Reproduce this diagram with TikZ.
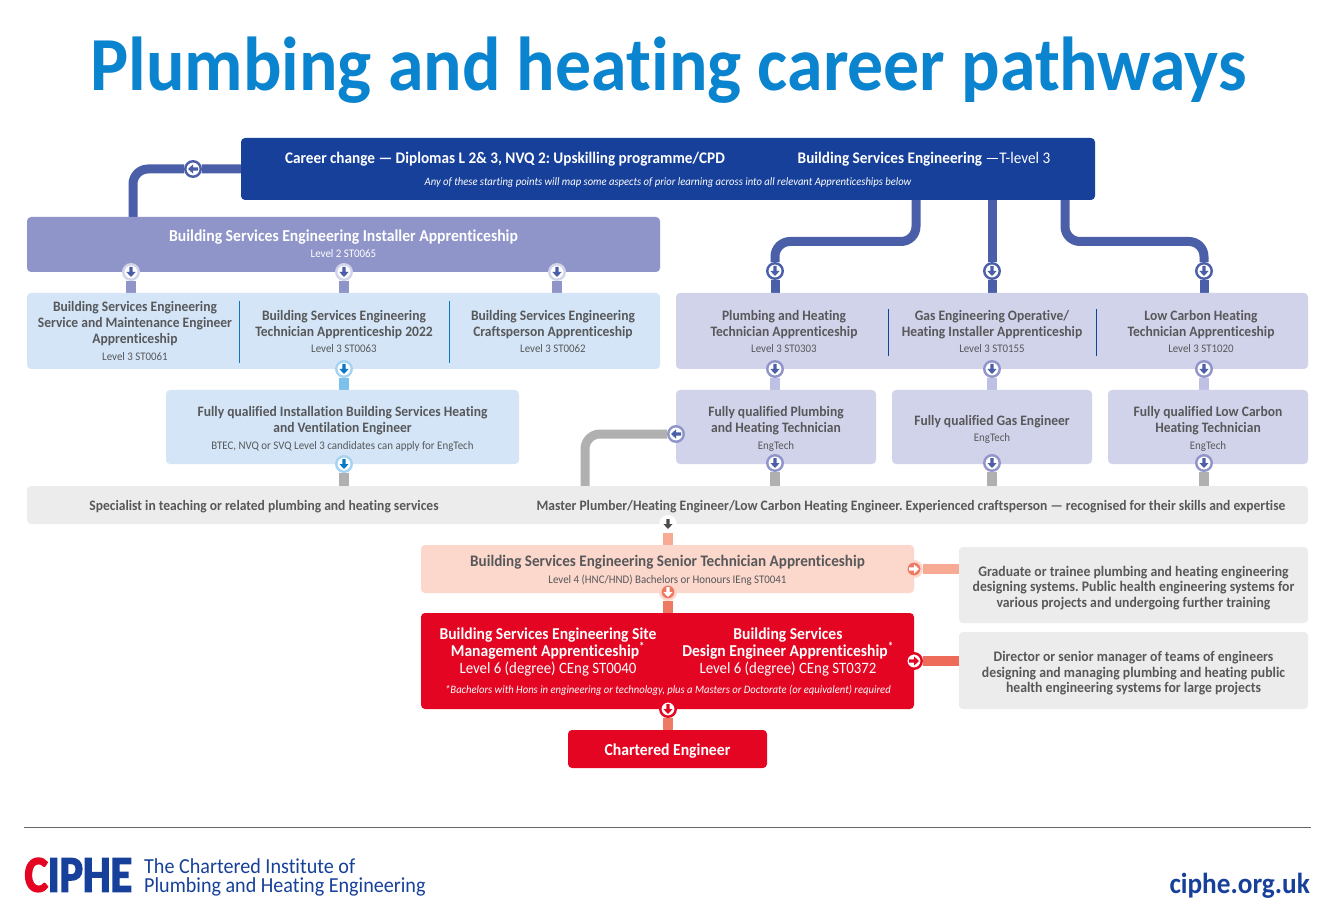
\documentclass[tikz,border=0pt]{standalone}
\usepackage{fontspec}
\setmainfont[FakeStretch=0.94,Ligatures=NoCommon]{Carlito}
\newfontfamily\logofont[FakeStretch=0.86,BoldFeatures={FakeBold=3}]{Carlito}
\usetikzlibrary{backgrounds}
\definecolor{navy}{HTML}{17409A}
\definecolor{midblue}{HTML}{4B5EA8}
\definecolor{install}{HTML}{8F94C9}
\definecolor{paleblue}{HTML}{D3E5F7}
\definecolor{lav}{HTML}{D1D3EA}
\definecolor{lavstem}{HTML}{BEC1E3}
\definecolor{skystem}{HTML}{7CC0EC}
\definecolor{skyring}{HTML}{A6D3F0}
\definecolor{skyarrow}{HTML}{0A78C5}
\definecolor{bandgrey}{HTML}{ECECEC}
\definecolor{stemgrey}{HTML}{B0B0B0}
\definecolor{txt}{HTML}{58585A}
\definecolor{peach}{HTML}{FBD7CC}
\definecolor{peachstem}{HTML}{F7AA94}
\definecolor{salmon}{HTML}{EE7A63}
\definecolor{salmondeep}{HTML}{EF6B59}
\definecolor{cred}{HTML}{E30522}
\definecolor{title}{HTML}{0A84CF}
\tikzset{
  box/.style={rounded corners=4pt,inner sep=0pt,align=center,text=txt,font=\headfont},
  lbl/.style={inner sep=0pt,align=center,text=txt,font=\headfont},
  conn/.style={line width=9pt,line join=round,rounded corners=15pt},
  stem/.style={line width=10.5pt},
  div/.style={line width=.9pt}
}
\newcommand{\headfont}{\fontsize{14.4}{15.6}\selectfont\bfseries}
\newcommand{\lv}[1]{{\fontsize{11.6}{15.6}\selectfont\mdseries #1}}
\newcommand{\up}[1]{\rule{0pt}{#1pt}}
\newcommand{\lvb}[1]{{\fontsize{15.8}{17}\selectfont\mdseries #1}}
% name, x, y, rotation, ring colour, disk colour, arrow colour
\newcommand{\hub}[7]{%
  \node[circle,draw=#5,fill=#6,line width=2.4pt,minimum size=15.5pt,inner sep=0pt] (#1) at (#2,#3) {};
  \fill[#7,shift={(#2,#3)},rotate=#4] (-1.6,-5) -- (1.6,-5) -- (1.6,0) -- (4.6,0) -- (0,5) -- (-4.6,0) -- (-1.6,0) -- cycle;
}
\frenchspacing
\begin{document}
\begin{tikzpicture}[x=1pt,y=-1pt]
\useasboundingbox (0,0) rectangle (1334,917);
\node[anchor=base,inner sep=0pt,text=title,font=\fontsize{76.4}{80}\selectfont\bfseries] (ttl) at (668.5,90.5) {Plumbing and heating career pathways};

% top
\node[box,fill=navy,minimum width=854pt,minimum height=62pt] (top) at (668,169) {};
\node[lbl,anchor=base,text=white,font=\fontsize{16.2}{17}\selectfont\bfseries] (t1) at (505,164) {Career change — Diplomas L 2\& 3, NVQ 2: Upskilling programme/CPD};
\node[lbl,anchor=base,text=white,font=\fontsize{16.2}{17}\selectfont\bfseries] (t2) at (924,164) {Building Services Engineering {\mdseries —T-level 3}};
\node[lbl,anchor=base,text=white,font=\fontsize{11.3}{13}\selectfont\itshape] (t3) at (668,186) {Any of these starting points will map some aspects of prior learning across into all relevant Apprenticeships below};

% installer
\node[box,fill=install,minimum width=633pt,minimum height=55pt,text=white] (inst) at (343.5,244.5) {\fontsize{16.7}{17}\selectfont Building Services Engineering Installer Apprenticeship\\[1pt]\lv{Level 2 ST0065\rule[-2pt]{0pt}{1pt}}};

% level 3 left
\node[box,fill=paleblue,minimum width=633pt,minimum height=76pt] (l3a) at (343.5,331) {};
\node[lbl] (a1) at (135,331) {Building Services Engineering\\Service and Maintenance Engineer\\Apprenticeship\\[1.5pt]\lv{Level 3 ST0061}};
\node[lbl] (a2) at (344,331.5) {Building Services Engineering\\Technician Apprenticeship 2022\\[1pt]\lv{Level 3 ST0063}};
\node[lbl] (a3) at (553,331.5) {Building Services Engineering\\Craftsperson Apprenticeship\\[1pt]\lv{Level 3 ST0062}};
\coordinate (da1) at (239.5,301); \coordinate (da2) at (239.5,363);
\coordinate (db1) at (449,301); \coordinate (db2) at (449,363);
\draw[div,color=skyarrow] (da1) -- (da2);
\draw[div,color=skyarrow] (db1) -- (db2);

% level 3 right
\node[box,fill=lav,minimum width=632pt,minimum height=76pt] (l3b) at (992,331) {};
\node[lbl] (b1) at (784,331.5) {Plumbing and Heating\\Technician Apprenticeship\\[1pt]\lv{Level 3 ST0303}};
\node[lbl] (b2) at (992,331.5) {Gas Engineering Operative/\\Heating Installer Apprenticeship\\[1pt]\lv{Level 3 ST0155}};
\node[lbl] (b3) at (1201,331.5) {Low Carbon Heating\\Technician Apprenticeship\\[1pt]\lv{Level 3 ST1020}};
\coordinate (dc1) at (888.5,309); \coordinate (dc2) at (888.5,356);
\coordinate (dd1) at (1096.5,309); \coordinate (dd2) at (1096.5,356);
\draw[div,color=navy] (dc1) -- (dc2);
\draw[div,color=navy] (dd1) -- (dd2);

% qualified
\node[box,fill=paleblue,minimum width=353pt,minimum height=74pt] (qi) at (342.5,427) {\up{14.5}Fully qualified Installation Building Services Heating\\and Ventilation Engineer\\[2pt]\lv{BTEC, NVQ or SVQ Level 3 candidates can apply for EngTech}};
\node[box,fill=lav,minimum width=200pt,minimum height=74pt] (qp) at (776,427) {\up{14.5}Fully qualified Plumbing\\and Heating Technician\\[2pt]\lv{EngTech}};
\node[box,fill=lav,minimum width=200pt,minimum height=74pt] (qg) at (992,427) {\up{15}Fully qualified Gas Engineer\\[1pt]\lv{EngTech}};
\node[box,fill=lav,minimum width=200pt,minimum height=74pt] (ql) at (1208,427) {\up{14.5}Fully qualified Low Carbon\\Heating Technician\\[2pt]\lv{EngTech}};

% band
\node[box,fill=bandgrey,minimum width=1281pt,minimum height=38pt] (band) at (667.5,505) {};
\node[lbl] (s1) at (264,506.5) {Specialist in teaching or related plumbing and heating services};
\node[lbl] (s2) at (911,506.5) {Master Plumber/Heating Engineer/Low Carbon Heating Engineer. Experienced craftsperson — recognised for their skills and expertise};

% senior
\node[box,fill=peach,minimum width=493pt,minimum height=48pt] (sen) at (667.5,569) {\fontsize{16.1}{17}\selectfont\up{14}Building Services Engineering Senior Technician Apprenticeship\\[1pt]\lv{Level 4 (HNC/HND) Bachelors or Honours IEng ST0041}};
\node[box,fill=cred,minimum width=493pt,minimum height=96pt] (site) at (667.5,661) {};
\node[lbl,text=white,font=\fontsize{16.6}{17}\selectfont\bfseries] (e1) at (548,652.5) {Building Services Engineering Site\\Management Apprenticeship\smash{\textsuperscript{*}}\\\lvb{Level 6 (degree) CEng ST0040}};
\node[lbl,text=white,font=\fontsize{16.6}{17}\selectfont\bfseries] (e2) at (788,652.5) {Building Services\\Design Engineer Apprenticeship\smash{\textsuperscript{*}}\\\lvb{Level 6 (degree) CEng ST0372}};
\node[lbl,text=white,font=\fontsize{11.3}{13}\selectfont\itshape] (e3) at (668,690) {*Bachelors with Hons in engineering or technology, plus a Masters or Doctorate (or equivalent) required};
\node[box,fill=cred,minimum width=199pt,minimum height=38pt,text=white] (ce) at (667.5,749) {\fontsize{16.7}{17}\selectfont\up{15.5}Chartered Engineer};
\node[box,fill=bandgrey,minimum width=349pt,minimum height=76pt,font=\fontsize{14.6}{15.6}\selectfont\bfseries] (g1) at (1133.5,585) {\up{16}Graduate or trainee plumbing and heating engineering\\designing systems. Public health engineering systems for\\various projects and undergoing further training};
\node[box,fill=bandgrey,minimum width=349pt,minimum height=77pt,font=\fontsize{14.6}{15.6}\selectfont\bfseries] (g2) at (1133.5,670.5) {\up{16}Director or senior manager of teams of engineers\\designing and managing plumbing and heating public\\health engineering systems for large projects};

% hubs
\hub{h0}{193}{169}{-90}{midblue}{white}{midblue}
\hub{h1}{131}{272}{0}{white!60!install}{white}{midblue}
\hub{h2}{344}{272}{0}{white!60!install}{white}{midblue}
\hub{h3}{557}{272}{0}{white!60!install}{white}{midblue}
\hub{h4}{344}{369}{0}{skyring}{white}{skyarrow}
\hub{h5}{344}{464}{0}{skyring}{white}{skyarrow}
\hub{h6}{775}{271}{0}{midblue}{white}{midblue}
\hub{h7}{992}{271}{0}{midblue}{white}{midblue}
\hub{h8}{1204}{271}{0}{midblue}{white}{midblue}
\hub{h9}{775}{369}{0}{install}{white}{midblue}
\hub{h10}{992}{369}{0}{install}{white}{midblue}
\hub{h11}{1204}{369}{0}{install}{white}{midblue}
\hub{h12}{775}{463}{0}{install}{white}{midblue}
\hub{h13}{992}{463}{0}{install}{white}{midblue}
\hub{h14}{1204}{463}{0}{install}{white}{midblue}
\hub{h15}{676}{434}{-90}{install}{white}{midblue}
\hub{h16}{668}{524}{0}{white!90!bandgrey}{white}{black!70}
\hub{h17}{668}{592}{0}{peach}{salmon}{white}
\hub{h18}{914}{569}{90}{peach}{salmon}{white}
\hub{h19}{914}{661}{90}{cred}{white}{cred}
\hub{h20}{668}{709}{0}{cred}{white}{cred}

% connectors
\coordinate (c1) at (916,200);
\coordinate (c2) at (992,200);
\coordinate (c3) at (1065,200);
\coordinate (c0) at (585,486);
\coordinate (ci) at (133,217);
\begin{scope}[on background layer]
\fill[white] (0,0) rectangle (1334,917);
\draw[conn,midblue] (h0 -| top.west) -- (h0) -- (h0 -| ci) -- (ci);
\draw[stem,install] (h1) -- (h1 |- l3a.north);
\draw[stem,install] (h2) -- (h2 |- l3a.north);
\draw[stem,install] (h3) -- (h3 |- l3a.north);
\draw[stem,skystem] (h4) -- (h4 |- qi.north);
\draw[stem,stemgrey] (h5) -- (h5 |- band.north);
\draw[conn,midblue] (c1) -- (916,241.5) -- (775,241.5) -- (h6);
\draw[conn,midblue] (h6) -- (h6 |- l3b.north);
\draw[conn,midblue] (c2) -- (h7);
\draw[conn,midblue] (h7) -- (h7 |- l3b.north);
\draw[conn,midblue] (c3) -- (1065,241.5) -- (1204,241.5) -- (h8);
\draw[conn,midblue] (h8) -- (h8 |- l3b.north);
\draw[stem,lavstem] (h9) -- (h9 |- qp.north);
\draw[stem,lavstem] (h10) -- (h10 |- qg.north);
\draw[stem,lavstem] (h11) -- (h11 |- ql.north);
\draw[stem,stemgrey] (h12) -- (h12 |- band.north);
\draw[stem,stemgrey] (h13) -- (h13 |- band.north);
\draw[stem,stemgrey] (h14) -- (h14 |- band.north);
\draw[conn,stemgrey] (h15) -- (c0 |- h15) -- (c0);
\draw[stem,peachstem] (h16) -- (h16 |- sen.north);
\draw[stem,salmon] (h17) -- (h17 |- site.north);
\draw[stem,peachstem] (h18) -- (h18 -| g1.west);
\draw[stem,salmondeep] (h19) -- (h19 -| g2.west);
\draw[stem,salmon] (h20) -- (h20 |- ce.north);
\end{scope}

% footer
\coordinate (r1) at (24,827); \coordinate (r2) at (1311,827);
\draw[line width=1pt,color=black!60] (r1) -- (r2);
\node[anchor=base west,inner sep=0pt,font=\logofont\fontsize{51}{51}\selectfont\bfseries,text=navy] (logo) at (24.5,891.5) {\textcolor{cred}{C}IPHE};
\node[anchor=north west,inner sep=0pt,align=left,text=navy,font=\fontsize{21.4}{19}\selectfont] (inst2) at (144,858) {The Chartered Institute of\\Plumbing and Heating Engineering};
\node[anchor=base east,inner sep=0pt,text=navy,font=\fontsize{29}{30}\selectfont\bfseries] (url) at (1310,893) {ciphe.org.uk};
\end{tikzpicture}
\end{document}
